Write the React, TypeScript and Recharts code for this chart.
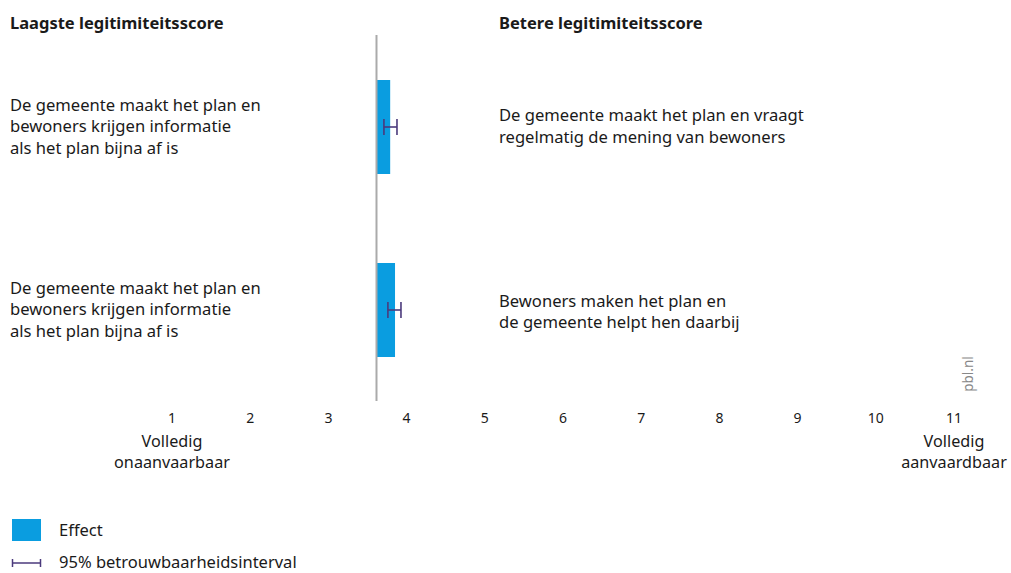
import React from "react";
import {
  ComposedChart,
  Bar,
  XAxis,
  YAxis,
  ErrorBar,
  ReferenceLine,
  Customized,
} from "recharts";

const categories = [
  "De gemeente maakt het plan en|bewoners krijgen informatie|als het plan bijna af is",
  "De gemeente maakt het plan en |bewoners krijgen informatie|als het plan bijna af is",
];
const rightLabels = [
  "De gemeente maakt het plan en vraagt|regelmatig de mening van bewoners",
  "Bewoners maken het plan en|de gemeente helpt hen daarbij",
];
const baselineScore = 3.615;
const effectValues = [3.79, 3.852];
const ciLow = [3.71, 3.761];
const ciHigh = [3.877, 3.928];
const xTicks = [1, 2, 3, 4, 5, 6, 7, 8, 9, 10, 11];
const headerLeft = "Laagste legitimiteitsscore";
const headerRight = "Betere legitimiteitsscore";
const legendEffect = "Effect";
const legendCI = "95% betrouwbaarheidsinterval";

const FONT = "'Noto Sans', sans-serif";
const BLUE = "#0a9de0";
const PURPLE = "#4b3a7c";
const TEXT = "#1a1a1a";

const data = categories.map((c, i) => ({
  cat: c,
  idx: i,
  effect: effectValues[i],
  err: [effectValues[i] - ciLow[i], ciHigh[i] - effectValues[i]],
}));

const YTick = (props: any) => {
  const { y, payload } = props;
  const idx = categories.indexOf(payload.value);
  const lines: string[] = String(payload.value).split("|").map((s) => s.trim());
  const right: string[] = rightLabels[idx < 0 ? 0 : idx].split("|");
  const lh = 21.5;
  const startL = y - ((lines.length - 1) * lh) / 2;
  const startR = y - ((right.length - 1) * lh) / 2 + (idx === 0 ? -0.5 : 2);
  return (
    <g>
      {lines.map((l, i) => (
        <text key={"l" + i} x={10} y={startL + i * lh} dy="0.35em" fontSize={16.6} fontFamily={FONT} fill={TEXT}>
          {l}
        </text>
      ))}
      {right.map((l, i) => (
        <text key={"r" + i} x={499} y={startR + i * lh} dy="0.35em" fontSize={16.6} fontFamily={FONT} fill={TEXT}>
          {l}
        </text>
      ))}
    </g>
  );
};

const XTick = (props: any) => {
  const { x, payload } = props;
  const v = payload.value;
  const extra: string[] =
    v === 1 ? ["Volledig", "onaanvaarbaar"] : v === 11 ? ["Volledig", "aanvaardbaar"] : [];
  return (
    <g>
      <text x={x} y={418} dy="0.35em" textAnchor="middle" fontSize={14} fontFamily={FONT} fill={TEXT}>
        {v}
      </text>
      {extra.map((t, i) => (
        <text key={i} x={x} y={441 + i * 21} dy="0.35em" textAnchor="middle" fontSize={16.2} fontFamily={FONT} fill={TEXT}>
          {t}
        </text>
      ))}
    </g>
  );
};

const Extras = () => (
  <g>
    <text x={10} y={23} dy="0.35em" fontSize={16.5} fontWeight="bold" fontFamily={FONT} fill={TEXT}>
      {headerLeft}
    </text>
    <text x={499} y={23} dy="0.35em" fontSize={16.5} fontWeight="bold" fontFamily={FONT} fill={TEXT}>
      {headerRight}
    </text>
    <text
      x={968}
      y={374}
      dy="0.35em"
      textAnchor="middle"
      fontSize={13.5}
      fontFamily={FONT}
      fill="#888"
      transform="rotate(-90 968 374)"
    >
      pbl.nl
    </text>
    <rect x={12} y={519} width={29} height={22} fill={BLUE} />
    <text x={59} y={530} dy="0.35em" fontSize={16.5} fontFamily={FONT} fill={TEXT}>
      {legendEffect}
    </text>
    <line x1={12} y1={563} x2={41} y2={563} stroke={PURPLE} strokeWidth={1.5} />
    <line x1={12.5} y1={559} x2={12.5} y2={567} stroke={PURPLE} strokeWidth={1.5} />
    <line x1={40.5} y1={559} x2={40.5} y2={567} stroke={PURPLE} strokeWidth={1.5} />
    <text x={59} y={562} dy="0.35em" fontSize={16.5} fontFamily={FONT} fill={TEXT}>
      {legendCI}
    </text>
  </g>
);

export default function App() {
  return (
    <div style={{ position: "absolute", left: 0, top: 0, width: 1011, height: 573, background: "#fff" }}>
      <ComposedChart
        width={1011}
        height={573}
        data={data}
        layout="vertical"
        margin={{ top: 35, right: 57, bottom: 171, left: 171 }}
      >
        <XAxis
          type="number"
          domain={[1, 11]}
          ticks={xTicks}
          axisLine={false}
          tickLine={false}
          tick={<XTick />}
          interval={0}
          height={1}
          allowDataOverflow
        />
        <YAxis
          type="category"
          dataKey="cat"
          width={1}
          axisLine={false}
          tickLine={false}
          tick={<YTick />}
          interval={0}
        />
        <Bar
          dataKey={(d: any) => [baselineScore, d.effect]}
          fill={BLUE}
          barSize={94}
          isAnimationActive={false}
          name={legendEffect}
        >
          <ErrorBar dataKey="err" direction="x" width={8} strokeWidth={1.6} stroke={PURPLE} />
        </Bar>
        <ReferenceLine x={baselineScore} stroke="#aaaaaa" strokeWidth={2} />
        <Customized component={Extras} />
      </ComposedChart>
    </div>
  );
}
